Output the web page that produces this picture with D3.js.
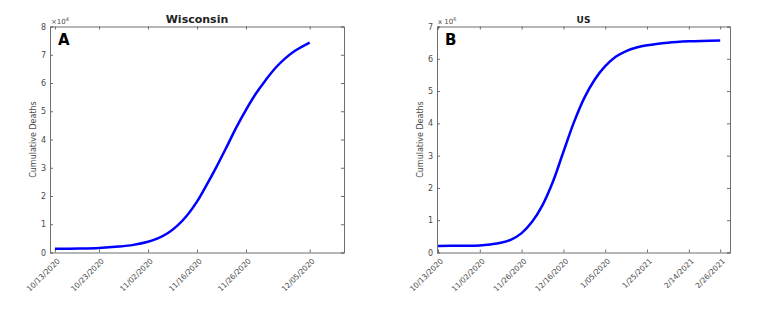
<!DOCTYPE html>
<html>
<head>
<meta charset="utf-8">
<script src="https://cdn.jsdelivr.net/npm/d3@7"></script>
<style>
  body { margin: 0; background: #fff; }
  text { font-family: "DejaVu Sans", sans-serif; }
</style>
</head>
<body>
<div id="chart"></div>
<script>
// Wisconsin (panel A), values in units of 10^4
var wiDays = [0, 5, 9, 13, 16, 19, 21, 23, 25, 27, 29, 31, 33, 35, 37, 39, 41, 43, 45, 47, 49, 52];
var wiDeaths = [0.13, 0.14, 0.16, 0.21, 0.27, 0.38, 0.5, 0.68, 0.95, 1.32, 1.8, 2.4, 3.04, 3.72, 4.42, 5.05, 5.62, 6.1, 6.53, 6.87, 7.14, 7.43];
var wiTickDays = [0, 9, 19, 29, 39, 52];
var wiTickLabels = ["10/13/2020", "10/23/2020", "11/02/2020", "11/16/2020", "11/26/2020", "12/05/2020"];

// US (panel B), values in units of 10^6
var usDays = [0, 10, 20, 25, 30, 35, 40, 45, 50, 55, 60, 65, 70, 75, 80, 85, 90, 95, 100, 110, 120, 135];
var usDeaths = [0.2, 0.21, 0.22, 0.25, 0.3, 0.4, 0.6, 0.95, 1.47, 2.2, 3.12, 4.03, 4.79, 5.36, 5.77, 6.06, 6.24, 6.35, 6.42, 6.5, 6.54, 6.57];
var usTickDays = [0, 20, 40, 60, 80, 100, 120, 135];
var usTickLabels = ["10/13/2020", "11/02/2020", "11/26/2020", "12/16/2020", "1/05/2020", "1/25/2021", "2/14/2021", "2/26/2021"];

var svg = d3.select("#chart").append("svg")
  .attr("width", 765)
  .attr("height", 310);

function drawPanel(p) {
  var x = d3.scaleLinear().domain(p.xDomain).range([p.left, p.right]);
  var y = d3.scaleLinear().domain([0, p.yMax]).range([p.bottom, p.top]);
  var g = svg.append("g");
  var axisColor = "#6e6e6e";
  var textColor = "#4a4a4a";

  // bottom axis with rotated date labels
  var xAxis = g.append("g")
    .attr("transform", "translate(0," + p.bottom + ")")
    .call(d3.axisBottom(x).tickValues(p.tickDays).tickSize(-3).tickFormat(function(d, i) { return p.tickLabels[i]; }));
  xAxis.selectAll("text")
    .attr("fill", textColor)
    .attr("font-size", "7.5px")
    .attr("text-anchor", "end")
    .attr("dy", null)
    .attr("y", 0)
    .attr("transform", "translate(5,9) rotate(-45)");

  // top axis ticks only
  g.append("g")
    .attr("transform", "translate(0," + p.top + ")")
    .call(d3.axisTop(x).tickValues(p.tickDays).tickSize(-3).tickFormat(""));

  // left axis
  var yAxis = g.append("g")
    .attr("transform", "translate(" + p.left + ",0)")
    .call(d3.axisLeft(y).ticks(p.yMax).tickSize(-3).tickPadding(4).tickFormat(d3.format("d")));
  yAxis.selectAll("text").attr("fill", textColor).attr("font-size", "8px");

  // right axis ticks only
  g.append("g")
    .attr("transform", "translate(" + p.right + ",0)")
    .call(d3.axisRight(y).ticks(p.yMax).tickSize(-3).tickFormat(""));

  g.selectAll(".domain").attr("stroke", axisColor);
  g.selectAll(".tick line").attr("stroke", axisColor);

  var line = d3.line()
    .x(function(d) { return x(d[0]); })
    .y(function(d) { return y(d[1]); })
    .curve(d3.curveCatmullRom.alpha(0.5));

  g.append("path")
    .datum(d3.zip(p.days, p.values))
    .attr("fill", "none")
    .attr("stroke", "#0000ff")
    .attr("stroke-width", 2.5)
    .attr("d", line);

  // title
  g.append("text")
    .attr("x", (p.left + p.right) / 2)
    .attr("y", p.top - 4)
    .attr("text-anchor", "middle")
    .attr("font-family", "Liberation Sans, Arial, sans-serif")
    .attr("font-weight", "bold")
    .attr("font-size", p.titleSize)
    .attr("fill", "#222")
    .text(p.title);

  // exponent label
  var ex = g.append("text")
    .attr("x", p.left + 1)
    .attr("y", p.top - 3)
    .attr("font-size", "7px")
    .attr("fill", textColor)
    .text(p.expPrefix + "10");
  ex.append("tspan")
    .attr("dy", -3)
    .attr("font-size", "5px")
    .text(p.exp);

  // y label
  g.append("text")
    .attr("transform", "translate(" + (p.left - 14) + "," + ((p.top + p.bottom) / 2) + ") rotate(-90)")
    .attr("text-anchor", "middle")
    .attr("font-size", "8px")
    .attr("fill", textColor)
    .text("Cumulative Deaths");

  // panel letter
  g.append("text")
    .attr("x", p.left + 8)
    .attr("y", p.top + 18)
    .attr("font-family", "Liberation Sans, Arial, sans-serif")
    .attr("font-weight", "bold")
    .attr("font-size", "15px")
    .attr("fill", "#000")
    .text(p.letter);
}

drawPanel({
  title: "Wisconsin", titleSize: "11px", letter: "A", expPrefix: "\u00d7", exp: "4",
  days: wiDays, values: wiDeaths, tickDays: wiTickDays, tickLabels: wiTickLabels,
  xDomain: [-1, 59], yMax: 8,
  left: 50, right: 344, top: 26.5, bottom: 252.5
});

drawPanel({
  title: "US", titleSize: "9px", letter: "B", expPrefix: "x ", exp: "6",
  days: usDays, values: usDeaths, tickDays: usTickDays, tickLabels: usTickLabels,
  xDomain: [-0.5, 139.7], yMax: 7,
  left: 437, right: 730, top: 26.5, bottom: 252.5
});
</script>
</body>
</html>
